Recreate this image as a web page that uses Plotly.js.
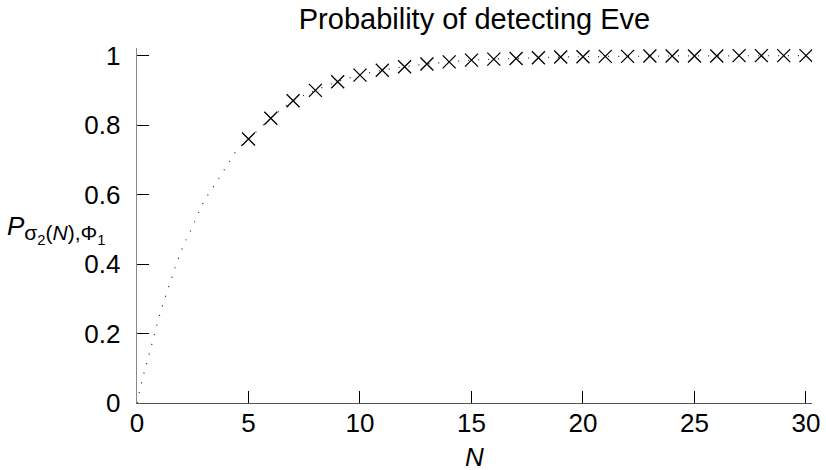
<!DOCTYPE html>
<html>
<head>
<meta charset="utf-8">
<script src="https://cdn.plot.ly/plotly-3.0.1.min.js"></script>
<style>html,body{margin:0;padding:0;background:#fff;}#chart{width:826px;height:470px;}</style>
</head>
<body>
<div id="chart"></div>
<script>
// Dotted curve samples
const curveN = [0, 0.25, 0.5, 0.75, 1, 1.5, 2, 2.5, 3, 3.5, 4, 4.5, 5, 6, 7, 8, 9, 10, 11, 12, 13, 14, 15, 16, 17, 18, 19, 20, 22, 24, 26, 28, 30];
const curveP = [0, 0.07, 0.13, 0.19, 0.25, 0.35, 0.44, 0.51, 0.58, 0.63, 0.68, 0.73, 0.76, 0.82, 0.87, 0.90, 0.925, 0.944, 0.958, 0.968, 0.976, 0.982, 0.987, 0.990, 0.992, 0.994, 0.996, 0.997, 0.998, 0.999, 0.9995, 0.9997, 0.9998];
// Cross markers
const markN = [5,6,7,8,9,10,11,12,13,14,15,16,17,18,19,20,21,22,23,24,25,26,27,28,29,30];
const markP = [0.76,0.82,0.87,0.90,0.925,0.944,0.958,0.968,0.976,0.982,0.987,0.990,0.992,0.994,0.996,0.997,0.998,0.998,0.999,0.999,0.999,0.999,1.0,1.0,1.0,1.0];
const xTicks = [0,5,10,15,20,25,30];
const yTicks = [0,0.2,0.4,0.6,0.8,1];
const yTickText = ['0','0.2','0.4','0.6','0.8','1'];

const fam = 'Liberation Sans, Arial, sans-serif';
const font = {family: fam, size: 26, color: '#000'};

const traces = [
  {x: curveN, y: curveP, mode: 'lines', line: {color: '#222', width: 1.2, dash: '1px,9px', shape: 'spline'}, hoverinfo: 'skip'},
  {x: markN, y: markP, mode: 'markers', marker: {symbol: 'x-thin', size: 13, color: '#000', line: {color: '#000', width: 1.3}}}
];

const layout = {
  width: 826, height: 470,
  margin: {l: 137, r: 14, t: 48, b: 67, pad: 0},
  paper_bgcolor: '#fff', plot_bgcolor: '#fff',
  showlegend: false,
  font: font,
  title: {text: 'Probability of detecting Eve', font: {family: fam, size: 29, color: '#000'}, x: 0.5, xref: 'paper', xanchor: 'center', yref: 'container', y: 0.96, yanchor: 'middle'},
  xaxis: {
    range: [0, 30.27], tickvals: xTicks, ticktext: xTicks.map(String),
    ticks: 'inside', ticklen: 12, tickcolor: '#000', tickwidth: 1,
    showline: true, linecolor: '#555', linewidth: 1.3, showgrid: false, zeroline: false,
    ticklabelstandoff: -4
  },
  yaxis: {
    range: [0, 1.022], tickvals: yTicks, ticktext: yTickText,
    ticks: 'inside', ticklen: 12, tickcolor: '#000', tickwidth: 1,
    showline: true, linecolor: '#888', linewidth: 1.3, showgrid: false, zeroline: false,
    ticklabelstandoff: 10
  },
  annotations: [{
    text: '<i>N</i>',
    xref: 'paper', yref: 'paper', x: 0.5, y: -0.153, xanchor: 'center', yanchor: 'middle',
    showarrow: false, font: font
  }, {
    text: '<i>P</i><sub><span style="font-size:21px">σ<sub>2</sub>(<i>N</i>),Φ<sub>1</sub></span></sub>',
    xref: 'paper', yref: 'paper', x: -0.196, y: 0.49, xanchor: 'left', yanchor: 'middle',
    showarrow: false, font: font
  }]
};

Plotly.newPlot('chart', traces, layout, {displayModeBar: false, staticPlot: true});
</script>
</body>
</html>
